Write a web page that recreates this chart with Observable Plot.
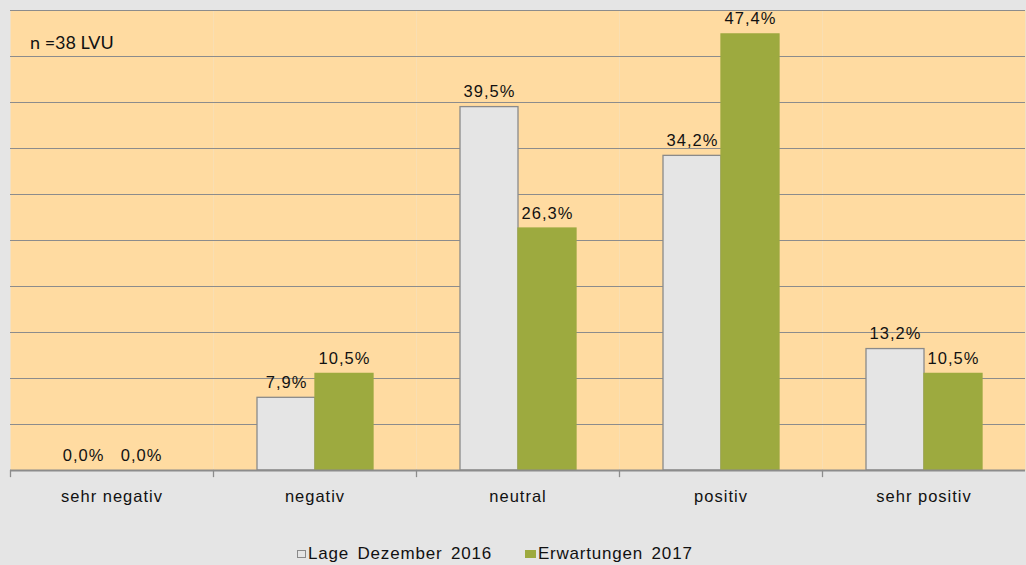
<!DOCTYPE html>
<html>
<head>
<meta charset="utf-8">
<script src="https://cdn.jsdelivr.net/npm/d3@7"></script>
<script src="https://cdn.jsdelivr.net/npm/@observablehq/plot@0.6"></script>
<style>
  html, body { margin: 0; padding: 0; background: #e5e5e5; }
  #wrap { position: relative; width: 1026px; height: 565px; overflow: hidden; background: #e5e5e5; }
  #legend { position: absolute; left: 297px; top: 544px; font-family: "Liberation Sans", Arial, sans-serif; font-size: 17px; letter-spacing: 0.8px; word-spacing: 3px; color: #111; display: flex; align-items: center; white-space: nowrap; }
  .sw { display: inline-block; height: 8px; margin-right: 2px; box-sizing: border-box; }
  .item { display: flex; align-items: center; margin-right: 33px; }
  #note { position: absolute; left: 30px; top: 31px; font-family: Lato, "Open Sans", sans-serif; font-size: 18px; color: #111; }
</style>
</head>
<body>
<div id="wrap">
  <div id="chart"></div>
  <div id="note"></div>
  <div id="legend"></div>
</div>
<script>
const categories = ["sehr negativ", "negativ", "neutral", "positiv", "sehr positiv"];
const seriesNames = ["Lage Dezember 2016", "Erwartungen 2017"];
const lage2016 = [0.0, 7.9, 39.5, 34.2, 13.2];
const erwartungen2017 = [0.0, 10.5, 26.3, 47.4, 10.5];
const yTicks = [0, 5, 10, 15, 20, 25, 30, 35, 40, 45, 50];
const note = "n =38 LVU";

const colors = {"Lage Dezember 2016": "#e5e5e5", "Erwartungen 2017": "#9daa3f"};
const strokes = {"Lage Dezember 2016": "#8a8a8a", "Erwartungen 2017": "#9daa3f"};

const data = [];
categories.forEach((c, i) => {
  data.push({cat: c, series: seriesNames[0], value: lage2016[i]});
  data.push({cat: c, series: seriesNames[1], value: erwartungen2017[i]});
});
const fmt = v => v.toFixed(1).replace(".", ",") + "%";

const chart = Plot.plot({
  width: 1026,
  height: 520,
  marginTop: 10,
  marginBottom: 50,
  marginLeft: 8,
  marginRight: 0,
  style: {fontFamily: "'Liberation Sans', Arial, sans-serif", fontSize: "16.5px", letterSpacing: "1px", background: "transparent", overflow: "visible"},
  fx: {domain: categories, padding: 0, label: null, axis: null},
  x: {domain: seriesNames, paddingInner: 0, paddingOuter: 0.725, axis: null},
  y: {domain: [0, 50], axis: null},
  marks: [
    Plot.frame({fill: "#ffdba1", stroke: null}),
    Plot.ruleY(yTicks.slice(1), {stroke: "#8c8c8c", strokeWidth: 1.2}),
    Plot.barY(data, {fx: "cat", x: "series", y: "value", fill: d => colors[d.series], stroke: d => strokes[d.series], strokeWidth: 1.3}),
    Plot.ruleY([0], {stroke: "#8c8c8c", strokeWidth: 2}),
    Plot.frame({anchor: "left", stroke: "#8c8c8c", strokeWidth: 1.3, insetTop: 460, insetBottom: -6}),
    Plot.text(data, {fx: "cat", x: "series", y: "value", text: d => fmt(d.value), lineAnchor: "bottom", dy: -10, fill: "#111", fontSize: 16.5}),
    Plot.text(categories, {fx: d => d, frameAnchor: "bottom", dy: 31, text: d => d, fill: "#111", fontSize: 16.5})
  ]
});
document.getElementById("chart").appendChild(chart);
document.getElementById("note").textContent = note;

const legend = document.getElementById("legend");
seriesNames.forEach((s, i) => {
  const item = document.createElement("span");
  item.className = "item";
  const sw = document.createElement("span");
  sw.className = "sw";
  sw.style.background = colors[s];
  sw.style.width = i === 0 ? "9px" : "11px";
  sw.style.border = i === 0 ? "1px solid #8a8a8a" : "none";
  item.appendChild(sw);
  item.appendChild(document.createTextNode(s));
  legend.appendChild(item);
});
</script>
</body>
</html>
